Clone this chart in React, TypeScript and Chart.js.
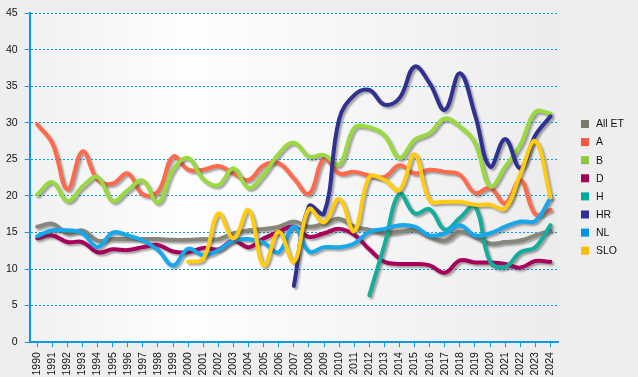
import React, { useEffect, useRef } from 'react';
import { Chart, registerables } from 'chart.js';

Chart.register(...registerables);

const years = ['1990','1991','1992','1993','1994','1995','1996','1997','1998','1999','2000','2001','2002','2003','2004','2005','2006','2007','2008','2009','2010','2011','2012','2013','2014','2015','2016','2017','2018','2019','2020','2021','2022','2023','2024'];

const allET = [15.8,16.2,14.9,15.3,13.9,14.1,14.1,14.1,14.1,14.0,14.0,14.1,14.1,14.9,15.3,15.5,15.8,16.5,15.8,16.2,16.9,15.8,15.4,14.9,15.1,15.3,14.4,13.9,15.1,14.4,13.5,13.7,13.9,14.6,15.3];
const seriesA = [29.8,27.2,20.9,26.1,22.2,21.7,23.1,20.2,20.6,25.4,23.6,23.6,24.1,23.1,22.2,24.2,24.5,22.4,20.3,25.1,23.1,23.3,22.8,22.6,24.2,23.1,23.6,23.3,22.9,20.4,21.1,19.0,22.2,17.5,18.1];
const seriesB = [20.2,21.9,19.3,21.3,22.6,19.3,20.8,22.1,19.1,23.6,25.2,22.3,21.5,23.8,21.1,22.9,25.8,27.3,25.4,25.6,24.3,29.3,29.4,28.3,25.2,27.7,28.6,30.6,29.5,27.2,21.3,24.0,27.0,31.5,31.3];
const seriesD = [14.2,14.6,13.7,13.7,12.3,12.7,12.6,13.0,13.3,12.4,12.3,12.9,12.7,13.9,13.0,14.2,15.1,15.8,14.4,14.9,15.5,14.7,12.7,11.0,10.7,10.7,10.5,9.5,11.2,10.9,10.9,10.7,10.2,11.1,11.0];
const seriesH = [null,null,null,null,null,null,null,null,null,null,null,null,null,null,null,null,null,null,null,null,null,null,6.4,13.3,20.3,17.6,18.2,15.4,17.0,18.6,11.0,10.3,12.3,13.0,16.0];
const seriesHR = [null,null,null,null,null,null,null,null,null,null,null,null,null,null,null,null,null,7.7,18.6,17.6,30.5,33.8,34.5,32.5,33.4,37.7,35.4,31.8,36.8,31.1,24.0,27.8,23.8,28.3,30.9];
const seriesNL = [14.5,15.3,15.3,14.9,13.0,15.0,14.6,13.9,12.6,10.5,12.8,11.9,12.6,13.9,14.1,13.6,12.3,15.8,12.4,13.0,13.0,13.5,15.1,15.5,16.0,15.8,14.6,14.9,16.0,14.6,14.9,15.8,16.5,16.6,19.7];
const seriesSLO = [null,null,null,null,null,null,null,null,null,null,11.0,11.4,17.6,14.2,18.1,10.5,15.1,11.0,18.2,16.4,19.6,15.2,22.6,22.2,20.8,25.7,19.4,19.2,19.2,18.8,18.8,18.3,23.0,27.5,19.8];

const seriesNames = ['All ET', 'A', 'B', 'D', 'H', 'HR', 'NL', 'SLO'];
const seriesValues = [allET, seriesA, seriesB, seriesD, seriesH, seriesHR, seriesNL, seriesSLO];
const lineColors = ['#86867a', '#ff6a4d', '#9ad93f', '#a8005a', '#12ad9c', '#2e3192', '#15a8ec', '#ffcc11'];
const legendColors = ['#7a7a6a', '#f15a40', '#8dc63f', '#a0005a', '#00a99d', '#2e3192', '#0095da', '#fdb913'];

const yTicks = [0, 5, 10, 15, 20, 25, 30, 35, 40, 45];

const FONT = '"Liberation Sans", Arial, sans-serif';
const AXIS_BLUE = '#0a9be3';

const bgPlugin = {
  id: 'bgPlugin',
  beforeDraw(chart: any) {
    const { ctx, chartArea, width, height } = chart;
    ctx.save();
    ctx.fillStyle = '#eeeeee';
    ctx.fillRect(0, 0, width, height);
    if (chartArea) {
      const g = ctx.createLinearGradient(chartArea.left, 0, chartArea.right, 0);
      g.addColorStop(0, '#f1f1f1');
      g.addColorStop(0.3, '#fefefe');
      g.addColorStop(1, '#ececec');
      ctx.fillStyle = g;
      ctx.fillRect(chartArea.left, chartArea.top, chartArea.right - chartArea.left, chartArea.bottom - chartArea.top);
    }
    ctx.restore();
  },
};

const shadowPlugin = {
  id: 'shadowPlugin',
  beforeDatasetDraw(chart: any) {
    const ctx = chart.ctx;
    ctx.save();
    ctx.shadowColor = 'rgba(60,60,60,0.45)';
    ctx.shadowOffsetX = 2;
    ctx.shadowOffsetY = 2;
    ctx.shadowBlur = 2;
  },
  afterDatasetDraw(chart: any) {
    chart.ctx.restore();
  },
};

const legendPlugin = {
  id: 'customLegend',
  afterDraw(chart: any) {
    const ctx = chart.ctx;
    ctx.save();
    ctx.font = `10.5px ${FONT}`;
    ctx.textBaseline = 'middle';
    ctx.textAlign = 'left';
    const startY = 124;
    const step = 18.1;
    seriesNames.forEach((name, i) => {
      const cy = startY + i * step;
      ctx.fillStyle = legendColors[i];
      ctx.fillRect(581, cy - 4, 8, 8);
      ctx.fillStyle = '#111111';
      ctx.fillText(name, 596, cy + 0.5);
    });
    ctx.restore();
  },
};

export default function App() {
  const ref = useRef<HTMLCanvasElement>(null);

  useEffect(() => {
    if (!ref.current) return;
    const n = seriesNames.length;
    const datasets = seriesNames.map((name, i) => ({
      label: name,
      data: seriesValues[i],
      borderColor: lineColors[i],
      backgroundColor: lineColors[i],
      borderWidth: 4,
      pointRadius: 0,
      pointHoverRadius: 0,
      tension: 0.4,
      fill: false,
      spanGaps: false,
      order: n - 1 - i,
      borderCapStyle: 'round' as const,
      borderJoinStyle: 'round' as const,
    }));

    const chart = new Chart(ref.current, {
      type: 'line',
      data: { labels: years, datasets },
      options: {
        animation: false,
        responsive: true,
        maintainAspectRatio: false,
        layout: { padding: { left: -1, right: 80, top: 7, bottom: -3.5 } },
        plugins: {
          legend: { display: false },
          tooltip: { enabled: false },
        },
        scales: {
          x: {
            type: 'category',
            offset: true,
            grid: {
              display: true,
              drawOnChartArea: false,
              drawTicks: true,
              tickLength: 5,
              color: AXIS_BLUE,
              tickColor: AXIS_BLUE,
            },
            border: { display: true, color: AXIS_BLUE, width: 2 },
            ticks: {
              autoSkip: false,
              minRotation: 90,
              maxRotation: 90,
              padding: 5,
              color: '#111111',
              font: { family: FONT, size: 10.5 },
            },
          },
          y: {
            min: 0,
            max: 45,
            afterBuildTicks(axis: any) {
              axis.ticks = yTicks.map((v) => ({ value: v }));
            },
            grid: {
              color: AXIS_BLUE,
              lineWidth: 1,
              drawTicks: true,
              tickLength: 5,
              tickColor: AXIS_BLUE,
            },
            border: { display: true, color: AXIS_BLUE, width: 2, dash: [2, 2] },
            ticks: {
              padding: 7,
              color: '#111111',
              font: { family: FONT, size: 10.5 },
            },
          },
        },
      },
      plugins: [bgPlugin, shadowPlugin, legendPlugin],
    } as any);

    return () => chart.destroy();
  }, []);

  return (
    <div style={{ position: 'absolute', left: 0, top: 0, width: 638, height: 377 }}>
      <canvas ref={ref} />
    </div>
  );
}
